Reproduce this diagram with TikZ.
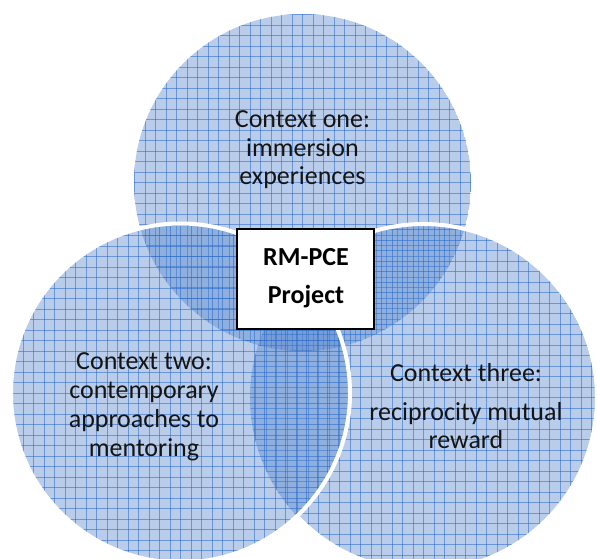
\documentclass[tikz,border=0pt]{standalone}
\usepackage{fontspec}
\setmainfont{Carlito}
\definecolor{vfill}{RGB}{80,130,205}
\definecolor{vgrid}{RGB}{40,105,200}
\newcommand\vennfill[3]{%
  \begin{scope}
    \clip (#1,#2) circle[radius=#3];
    \fill[vfill, fill opacity=.4] (#1,#2) circle[radius=#3];
    \foreach \k in {-17,...,17} {
      \draw[vgridline] (#1+\k*10.5,#2-#3-2) -- (#1+\k*10.5,#2+#3+2);
      \draw[vgridline] (#1-#3-2,#2+\k*10.5) -- (#1+#3+2,#2+\k*10.5);
    }
  \end{scope}}
\begin{document}
\begin{tikzpicture}[x=1pt,y=-1pt,
  vgridline/.style={draw=vgrid, draw opacity=.55, line width=0.75pt},
  vborder/.style={draw=white, line width=4pt},
  vtext/.style={font=\fontsize{26}{29}\selectfont, anchor=base, inner sep=0pt, text=black!92},
  btext/.style={font=\fontsize{26}{29}\selectfont\bfseries, anchor=base, inner sep=0pt, text=black},
  centerbox/.style={draw=black, line width=1.6pt, fill=white, minimum width=137, minimum height=100, inner sep=0pt}]
\useasboundingbox (0,0) rectangle (597,558);
% circles: top, right, left
\vennfill{302.5}{182.5}{168.5}
\vennfill{423.5}{397.5}{173.5}
\vennfill{180.5}{393}{169.5}
% visible white borders
\draw[vborder] (423.5,397.5) ++(-134.7:173.5) arc[start angle=-134.7, end angle=136.8, radius=173.5];
\draw[vborder] (180.5,393) circle[radius=169.5];
% centre box
\node[centerbox] (box) at (305.5,279) {};
\node[btext] (b1) at (306,265) {RM-PCE};
\node[btext] (b2) at (306,303) {Project};
% top texts
\node[vtext] (t1) at (302.5,127) {Context one:};
\node[vtext] (t2) at (302.5,156) {immersion};
\node[vtext] (t3) at (302.5,184) {experiences};
% left texts
\node[vtext] (l1) at (144,369.5) {Context two:};
\node[vtext] (l2) at (144,398) {contemporary};
\node[vtext] (l3) at (144,427) {approaches to};
\node[vtext] (l4) at (144,456) {mentoring};
% right texts
\node[vtext] (r1) at (466,381) {Context three:};
\node[vtext] (r2) at (466,420) {reciprocity mutual};
\node[vtext] (r3) at (466,448) {reward};
\end{tikzpicture}
\end{document}
